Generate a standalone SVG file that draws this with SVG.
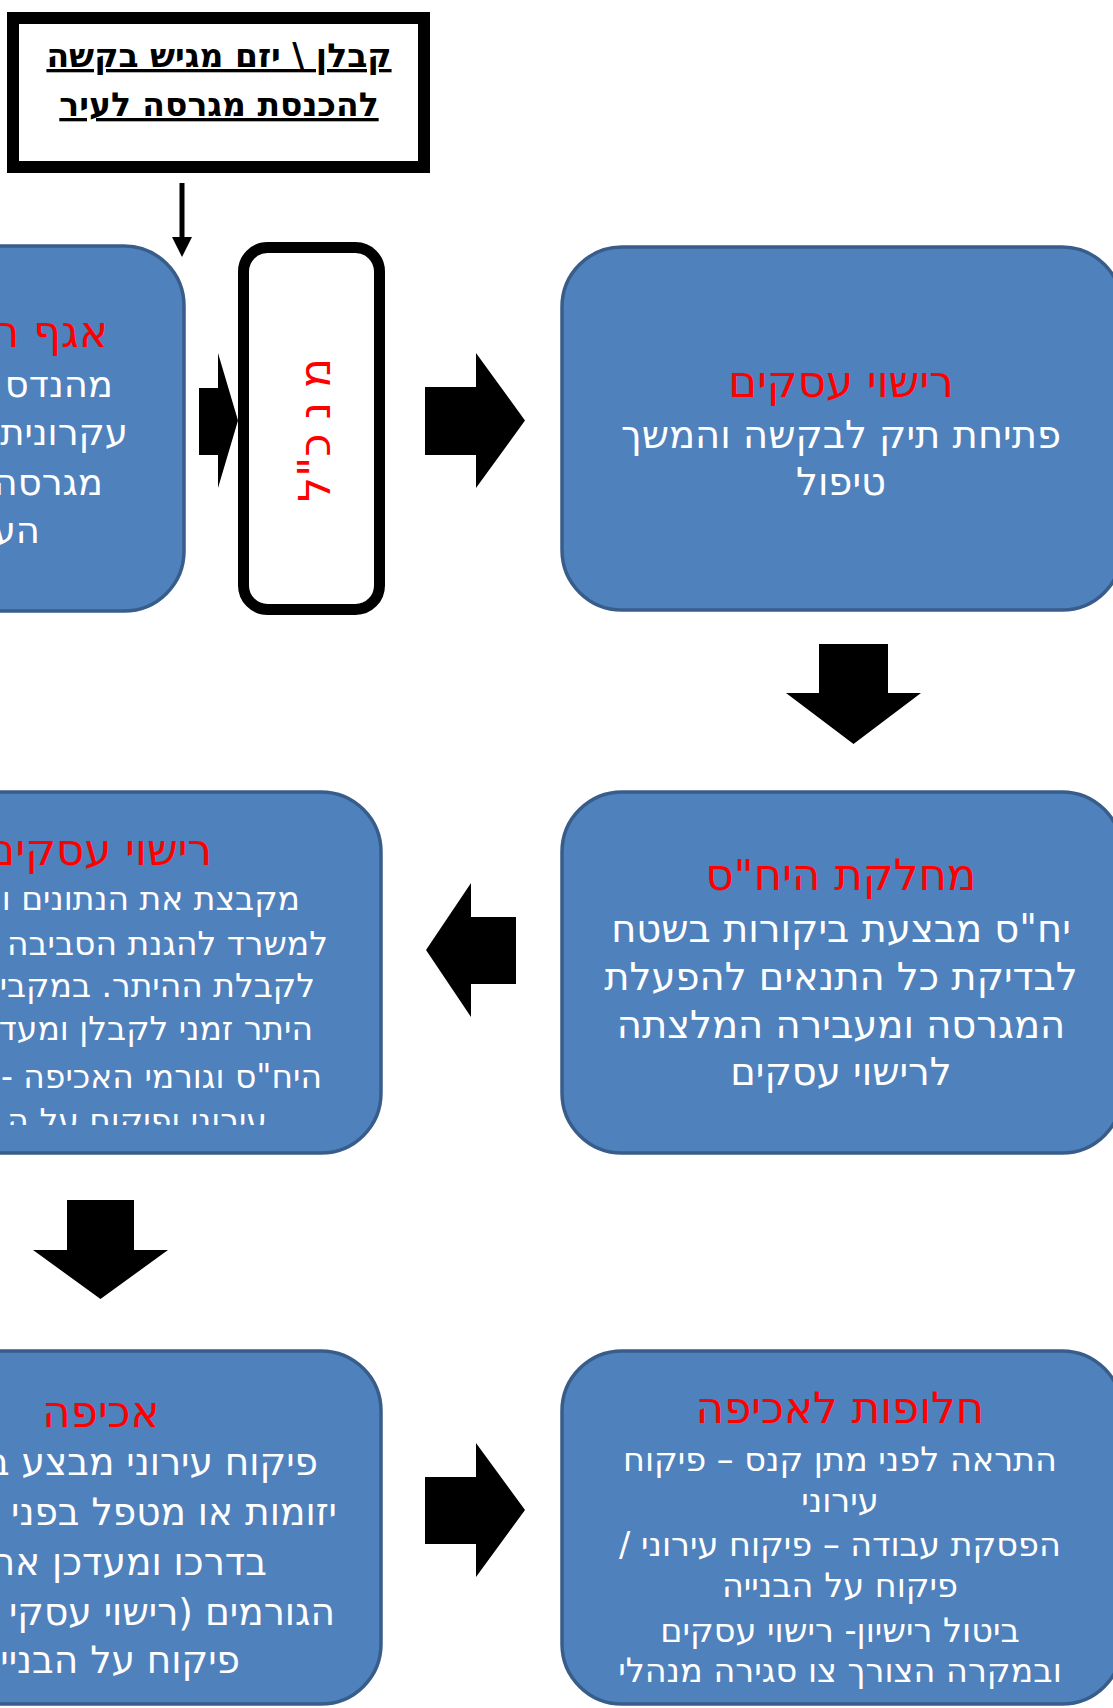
<svg xmlns="http://www.w3.org/2000/svg" width="1113" height="1708" viewBox="0 0 1113 1708">
  <style>
    text { font-family: "DejaVu Sans", "Liberation Sans", sans-serif; direction: rtl; }
    .box { fill: #4F81BD; stroke: #385D8A; stroke-width: 3.5; }
    .title { fill: #FF0000; font-size: 43.5px; }
    .body { fill: #FFFFFF; font-size: 38.5px; }
    .tl { fill: #FFFFFF; font-size: 37px; }
    .bl { fill: #FFFFFF; font-size: 37.5px; }
    .small { fill: #FFFFFF; font-size: 33px; }
    .mid { fill: #FFFFFF; font-size: 33.5px; }
    .head { fill: #000000; font-size: 33px; font-weight: bold; text-decoration: underline; }
    .c { text-anchor: middle; }
    .r { text-anchor: start; }
    .arrow { fill: #000000; }
  </style>
  <defs>
    <clipPath id="clipML">
      <rect x="0" y="780" width="400" height="345"/>
    </clipPath>
  </defs>
  <rect x="0" y="0" width="1113" height="1708" fill="#FFFFFF"/>

  <g id="node-request">
    <rect x="13" y="18" width="411" height="149" fill="#FFFFFF" stroke="#000000" stroke-width="12"/>
    <text x="219" y="67" class="head c">קבלן \ יזם מגיש בקשה</text>
    <text x="219" y="116" class="head c">להכנסת מגרסה לעיר</text>
  </g>

  <g id="node-engineering">
    <rect x="-380" y="246" width="564" height="365" rx="60" class="box"/>
    <text x="108" y="347" class="title r">אגף ה</text>
    <text x="113" y="397" class="tl r">מהנדס</text>
    <text x="128" y="445" class="tl r">עקרונית</text>
    <text x="103" y="495" class="tl r">מגרסה</text>
    <text x="40" y="543" class="tl r">הע</text>
  </g>

  <g id="node-ceo">
    <rect x="243.5" y="247.5" width="136" height="362" rx="24" fill="#FFFFFF" stroke="#000000" stroke-width="11"/>
    <text transform="translate(330,430) rotate(-90)" x="0" y="0" class="c" style="fill:#FF0000;font-size:44px">מ נ כ"ל</text>
  </g>

  <g id="node-licensing-open">
    <rect x="562" y="247" width="560" height="363" rx="60" class="box"/>
    <text x="841" y="397" class="title c">רישוי עסקים</text>
    <text x="841" y="448" class="body c">פתיחת תיק לבקשה והמשך</text>
    <text x="841" y="495" class="body c">טיפול</text>
  </g>

  <g id="node-environment">
    <rect x="562" y="792" width="560" height="361" rx="60" class="box"/>
    <text x="841" y="890" class="title c">מחלקת היח"ס</text>
    <text x="841" y="942" class="body c">יח"ס מבצעת ביקורות בשטח</text>
    <text x="841" y="990" class="body c">לבדיקת כל התנאים להפעלת</text>
    <text x="841" y="1038" class="body c">המגרסה ומעבירה המלצתה</text>
    <text x="841" y="1085" class="body c">לרישוי עסקים</text>
  </g>

  <g id="node-licensing-permit">
    <rect x="-181" y="792" width="562" height="361" rx="60" class="box"/>
    <text x="212" y="865" class="title r">רישוי עסקים</text>
    <g clip-path="url(#clipML)">
      <text x="300" y="910" class="small r">מקבצת את הנתונים ו</text>
      <text x="328" y="955" class="small r">למשרד להגנת הסביבה</text>
      <text x="315" y="997" class="small r">לקבלת ההיתר. במקבי</text>
      <text x="313" y="1040" class="small r">היתר זמני לקבלן ומעד</text>
      <text x="322" y="1088" class="small r">היח"ס וגורמי האכיפה -</text>
      <text x="267" y="1132" class="small r">עירוני ופיקוח על ה</text>
    </g>
  </g>

  <g id="node-enforcement">
    <rect x="-181" y="1351" width="562" height="353" rx="60" class="box"/>
    <text x="101" y="1427" class="title c">אכיפה</text>
    <text x="318" y="1475" class="bl r">פיקוח עירוני מבצע ב</text>
    <text x="337" y="1525" class="bl r">יזומות או מטפל בפני</text>
    <text x="267" y="1575" class="bl r">בדרכו ומעדכן את</text>
    <text x="335" y="1625" class="bl r">הגורמים (רישוי עסקי</text>
    <text x="240" y="1673" class="bl r">פיקוח על הבניי</text>
  </g>

  <g id="node-alternatives">
    <rect x="562" y="1351" width="560" height="353" rx="60" class="box"/>
    <text x="840" y="1423" class="title c">חלופות לאכיפה</text>
    <text x="840" y="1471" class="mid c">התראה לפני מתן קנס – פיקוח</text>
    <text x="840" y="1512" class="mid c">עירוני</text>
    <text x="840" y="1556" class="mid c">הפסקת עבודה – פיקוח עירוני /</text>
    <text x="840" y="1597" class="mid c">פיקוח על הבנייה</text>
    <text x="840" y="1642" class="mid c">ביטול רישיון- רישוי עסקים</text>
    <text x="840" y="1682" class="mid c">ובמקרה הצורך צו סגירה מנהלי</text>
  </g>

  <g id="connectors">
    <line x1="182" y1="183" x2="182" y2="240" stroke="#000" stroke-width="5"/>
    <polygon points="172,237 192,237 182,257" class="arrow"/>
    <polygon points="199,388 218,388 218,353 238,420.5 218,488 218,455 199,455" class="arrow"/>
    <polygon points="425,387 476,387 476,353 525,420.5 476,488 476,455 425,455" class="arrow"/>
    <polygon points="819,644 888,644 888,693 921,693 853.5,744 786,693 819,693" class="arrow"/>
    <polygon points="516,917 471,917 471,883 426,950 471,1017 471,984 516,984" class="arrow"/>
    <polygon points="67,1200 134,1200 134,1250 168,1250 100.5,1299 33,1250 67,1250" class="arrow"/>
    <polygon points="425,1477 476,1477 476,1443 525,1510 476,1577 476,1544 425,1544" class="arrow"/>
  </g>
</svg>
